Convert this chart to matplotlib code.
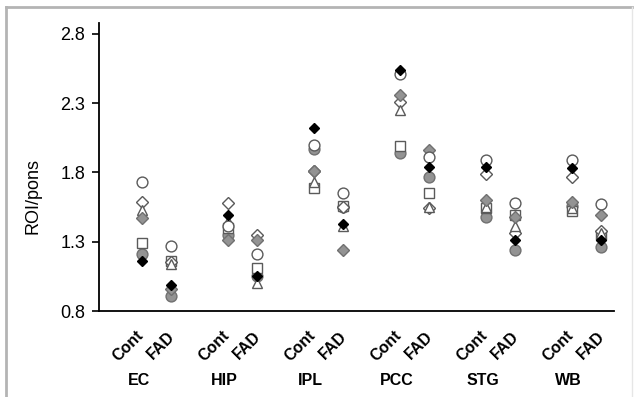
import matplotlib
matplotlib.use('Agg')
import matplotlib.pyplot as plt
from matplotlib.lines import Line2D
import numpy as np

regions = ['EC', 'HIP', 'IPL', 'PCC', 'STG', 'WB']

# one marker per subject, values per region (EC, HIP, IPL, PCC, STG, WB)
cont_gray_circle   = [1.21, 1.35, 1.97, 1.94, 1.48, 1.56]
cont_square        = [1.29, 1.40, 1.69, 1.99, 1.54, 1.52]
cont_triangle      = [1.53, 1.45, 1.73, 2.25, 1.55, 1.54]
cont_open_diamond  = [1.59, 1.58, 1.81, 2.31, 1.79, 1.77]
cont_gray_diamond  = [1.47, 1.31, 1.81, 2.36, 1.60, 1.59]
cont_open_circle   = [1.73, 1.41, 2.00, 2.51, 1.89, 1.89]
cont_black_diamond = [1.16, 1.49, 2.12, 2.54, 1.84, 1.83]

fad_gray_circle   = [0.91, 1.05, 1.55, 1.77, 1.24, 1.26]
fad_square        = [1.16, 1.11, 1.56, 1.65, 1.49, 1.35]
fad_triangle      = [1.14, 1.00, 1.41, 1.55, 1.41, 1.36]
fad_open_diamond  = [1.15, 1.35, 1.55, 1.54, 1.36, 1.38]
fad_gray_diamond  = [0.96, 1.31, 1.24, 1.96, 1.48, 1.49]
fad_open_circle   = [1.27, 1.21, 1.65, 1.91, 1.58, 1.57]
fad_black_diamond = [0.99, 1.05, 1.43, 1.84, 1.31, 1.31]

edge = '#5a5a5a'
gray = '#939393'
styles = [
    (cont_gray_circle, fad_gray_circle, dict(marker='o', ms=7.8, mfc=gray, mec='#707070')),
    (cont_square, fad_square, dict(marker='s', ms=6.8, mfc='white', mec=edge)),
    (cont_open_diamond, fad_open_diamond, dict(marker='D', ms=6, mfc='white', mec=edge)),
    (cont_triangle, fad_triangle, dict(marker='^', ms=7.5, mfc='white', mec=edge)),
    (cont_gray_diamond, fad_gray_diamond, dict(marker='D', ms=6, mfc=gray, mec='#707070')),
    (cont_open_circle, fad_open_circle, dict(marker='o', ms=7.8, mfc='white', mec=edge)),
    (cont_black_diamond, fad_black_diamond, dict(marker='D', ms=5.5, mfc='black', mec='black')),
]

fig = plt.figure(figsize=(6.34, 3.97), dpi=100)
ax = fig.add_axes([99/634, 1-311/397, 515/634, 288/397])

x = np.arange(len(regions))
off = 0.34
for cont, fad, st in styles:
    ax.plot(x, cont, ls='none', mew=1.0, **st)
    ax.plot(x + off, fad, ls='none', mew=1.0, **st)

font = 'Liberation Sans'
ax.set_xlim(-0.5, 5.49)
ax.set_ylim(0.8, 2.878)
ax.set_yticks([0.8, 1.3, 1.8, 2.3, 2.8])
ax.set_yticklabels(['0.8', '1.3', '1.8', '2.3', '2.8'], fontsize=13, fontfamily=font)
ax.tick_params(axis='y', length=5, width=1.2, pad=5)
ax.set_xticks([])
ax.spines['top'].set_visible(False)
ax.spines['right'].set_visible(False)
ax.spines['left'].set_linewidth(1.3)
ax.spines['bottom'].set_linewidth(1.3)
ax.set_ylabel('ROI/pons', fontsize=13, fontfamily=font)
ax.yaxis.set_label_coords(-0.112, 0.40)

for i, r in enumerate(regions):
    ax.text(x[i] - 0.01, -0.075, 'Cont', transform=ax.get_xaxis_transform(), rotation=45,
            rotation_mode='anchor', ha='right', va='center', fontsize=11.5,
            fontweight='bold', fontfamily=font)
    ax.text(x[i] + off + 0.01, -0.08, 'FAD', transform=ax.get_xaxis_transform(), rotation=45,
            rotation_mode='anchor', ha='right', va='center', fontsize=11.5,
            fontweight='bold', fontfamily=font)
    ax.text(x[i] - 0.04, -0.243, r, transform=ax.get_xaxis_transform(), ha='center',
            va='center', fontsize=11.5, fontweight='bold', fontfamily=font)

# gray frame around the figure
fig.add_artist(Line2D([6/634, 632/634], [1-7/397, 1-7/397], color='#b4b4b4', lw=2))
fig.add_artist(Line2D([6/634, 6/634], [0, 1-7/397], color='#b4b4b4', lw=2))
fig.add_artist(Line2D([632/634, 632/634], [0, 1-7/397], color='#e6e6e6', lw=1))

fig.savefig('out.png', dpi=100)
